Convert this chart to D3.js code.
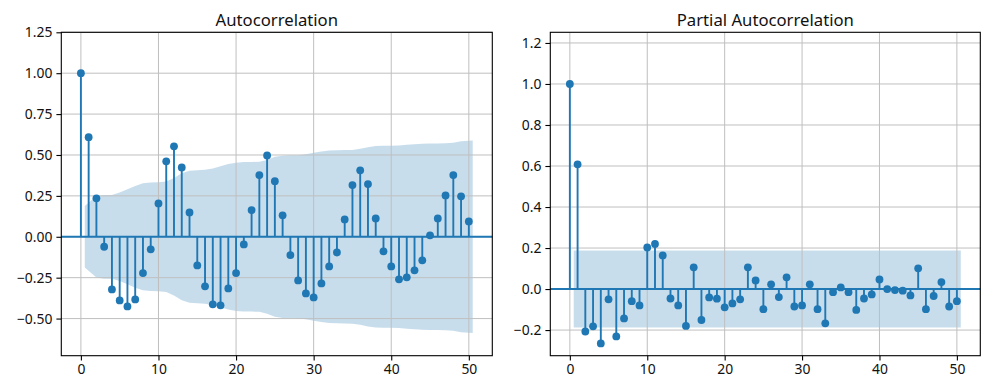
<!DOCTYPE html>
<html>
<head>
<meta charset="utf-8">
<script src="https://cdn.jsdelivr.net/npm/d3@7"></script>
<style>
  body { margin: 0; background: #fff; }
  svg text { font-family: "Noto Sans", sans-serif; fill: #111; }
</style>
</head>
<body>
<script>
// lags 0..50
const lags = d3.range(0, 51);

const acfValues = [
  1.00, 0.609, 0.235, -0.061, -0.322, -0.389, -0.426, -0.383, -0.222, -0.077,
  0.204, 0.461, 0.553, 0.424, 0.149, -0.175, -0.303, -0.413, -0.419, -0.316,
  -0.222, -0.047, 0.163, 0.377, 0.497, 0.340, 0.131, -0.112, -0.267, -0.346,
  -0.371, -0.285, -0.181, -0.096, 0.106, 0.316, 0.406, 0.322, 0.112, -0.089,
  -0.181, -0.260, -0.248, -0.205, -0.144, 0.009, 0.112, 0.253, 0.377, 0.247,
  0.094
];

// half width of the confidence band at lags 1..50
const acfBand = [
  0.188, 0.249, 0.256, 0.256, 0.271, 0.290, 0.311, 0.327, 0.332, 0.333,
  0.338, 0.359, 0.388, 0.404, 0.406, 0.409, 0.417, 0.431, 0.445, 0.453,
  0.457, 0.457, 0.459, 0.470, 0.489, 0.496, 0.498, 0.499, 0.504, 0.513,
  0.521, 0.527, 0.529, 0.530, 0.531, 0.538, 0.548, 0.555, 0.556, 0.556,
  0.558, 0.563, 0.566, 0.569, 0.570, 0.570, 0.571, 0.575, 0.584, 0.588
];

const pacfValues = [
  1.00, 0.608, -0.207, -0.182, -0.265, -0.050, -0.231, -0.143, -0.059, -0.080,
  0.203, 0.220, 0.164, -0.046, -0.080, -0.180, 0.106, -0.151, -0.041, -0.047,
  -0.089, -0.070, -0.050, 0.106, 0.042, -0.098, 0.023, -0.039, 0.057, -0.085,
  -0.080, 0.023, -0.098, -0.167, -0.015, 0.008, -0.015, -0.102, -0.046, -0.026,
  0.047, 0.000, -0.005, -0.008, -0.031, 0.101, -0.098, -0.034, 0.034, -0.085,
  -0.059
];

const pacfBand = d3.range(50).map(() => 0.188);

const xTicks = [0, 10, 20, 30, 40, 50];
const acfTicks = [1.25, 1.00, 0.75, 0.50, 0.25, 0.00, -0.25, -0.50];
const pacfTicks = [1.2, 1.0, 0.8, 0.6, 0.4, 0.2, 0.0, -0.2];

const W = 989, H = 390;
const C0 = "#1f77b4";

let svg = d3.select("body").append("svg")
    .attr("width", W)
    .attr("height", H);

function drawPanel(opts) {
    let x = d3.scaleLinear().domain([-2.525, 53.025]).range([opts.left, opts.right]);
    let y = d3.scaleLinear().domain(opts.ydomain).range([355.7, 32.3]);

    let g = svg.append("g");

    // confidence band, first and last lags pushed out by half a lag
    let bandX = lags.slice(1).map(function (d, i, a) {
        if (i === 0) return d - 0.5;
        if (i === a.length - 1) return d + 0.5;
        return d;
    });
    let bandData = bandX.map(function (d, i) { return {x: d, w: opts.band[i]}; });

    g.append("path")
        .datum(bandData)
        .attr("fill", C0)
        .attr("fill-opacity", 0.25)
        .attr("d", d3.area()
            .x(function (d) { return x(d.x); })
            .y0(function (d) { return y(-d.w); })
            .y1(function (d) { return y(d.w); }));

    // grid
    g.append("g")
        .selectAll("line.vgrid")
        .data(xTicks)
        .enter()
        .append("line")
        .attr("x1", function (d) { return x(d); })
        .attr("x2", function (d) { return x(d); })
        .attr("y1", y.range()[0])
        .attr("y2", y.range()[1])
        .attr("stroke", "#bfbfbf")
        .attr("stroke-width", 1);

    g.append("g")
        .selectAll("line.hgrid")
        .data(opts.yticks)
        .enter()
        .append("line")
        .attr("x1", opts.left)
        .attr("x2", opts.right)
        .attr("y1", function (d) { return y(d); })
        .attr("y2", function (d) { return y(d); })
        .attr("stroke", "#bfbfbf")
        .attr("stroke-width", 1);

    // stems
    g.append("g")
        .selectAll("line")
        .data(opts.values)
        .enter()
        .append("line")
        .attr("x1", function (d, i) { return x(lags[i]); })
        .attr("x2", function (d, i) { return x(lags[i]); })
        .attr("y1", y(0))
        .attr("y2", function (d) { return y(d); })
        .attr("stroke", C0)
        .attr("stroke-width", 1.9);

    // zero line
    g.append("line")
        .attr("x1", opts.left)
        .attr("x2", opts.right)
        .attr("y1", y(0))
        .attr("y2", y(0))
        .attr("stroke", C0)
        .attr("stroke-width", 2);

    // markers
    g.append("g")
        .selectAll("circle")
        .data(opts.values)
        .enter()
        .append("circle")
        .attr("cx", function (d, i) { return x(lags[i]); })
        .attr("cy", function (d) { return y(d); })
        .attr("r", 3.9)
        .attr("fill", C0);

    // axes
    let xAxis = d3.axisBottom(x)
        .tickValues(xTicks)
        .tickSize(4.9)
        .tickPadding(4)
        .tickFormat(d3.format("d"));

    let yAxis = d3.axisLeft(y)
        .tickValues(opts.yticks)
        .tickSize(4.9)
        .tickPadding(4)
        .tickFormat(function (d) { return d3.format(opts.fmt)(d).replace("-", "\u2212"); });

    let xa = g.append("g")
        .attr("transform", "translate(0," + y.range()[0] + ")")
        .call(xAxis);
    let ya = g.append("g")
        .attr("transform", "translate(" + opts.left + ",0)")
        .call(yAxis);

    [xa, ya].forEach(function (a) {
        a.select(".domain").remove();
        a.selectAll(".tick line").attr("stroke", "#000").attr("stroke-width", 1.1);
        a.selectAll(".tick text")
            .attr("fill", "#111")
            .style("font-size", "13.9px")
            .style("font-family", "'Noto Sans', sans-serif");
    });

    // frame
    g.append("rect")
        .attr("x", opts.left)
        .attr("y", 32.3)
        .attr("width", opts.right - opts.left)
        .attr("height", 355.7 - 32.3)
        .attr("fill", "none")
        .attr("stroke", "#000")
        .attr("stroke-width", 1.1);

    // title
    g.append("text")
        .attr("x", (opts.left + opts.right) / 2)
        .attr("y", 25.7)
        .attr("text-anchor", "middle")
        .style("font-size", "16.7px")
        .text(opts.title);
}

drawPanel({
    left: 61.3, right: 492.3,
    ydomain: [-0.727, 1.25],
    values: acfValues, band: acfBand,
    yticks: acfTicks, fmt: ".2f",
    title: "Autocorrelation"
});

drawPanel({
    left: 550.3, right: 980.3,
    ydomain: [-0.325, 1.252],
    values: pacfValues, band: pacfBand,
    yticks: pacfTicks, fmt: ".1f",
    title: "Partial Autocorrelation"
});
</script>
</body>
</html>
